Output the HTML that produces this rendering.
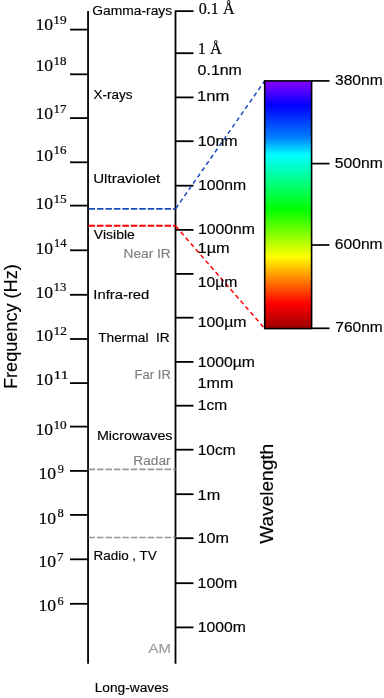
<!DOCTYPE html>
<html><head><meta charset="utf-8"><title>Electromagnetic spectrum</title>
<style>html,body{margin:0;padding:0;background:#fff;overflow:hidden}svg{display:block}</style>
</head><body>
<svg width="384" height="698" viewBox="0 0 384 698">
<defs><linearGradient id="spec" x1="0" y1="0" x2="0" y2="1">
<stop offset="0" stop-color="#8a00ff"/>
<stop offset="0.10" stop-color="#0000ff"/>
<stop offset="0.23" stop-color="#0080ff"/>
<stop offset="0.30" stop-color="#00ffff"/>
<stop offset="0.52" stop-color="#00ff00"/>
<stop offset="0.71" stop-color="#ffff00"/>
<stop offset="0.785" stop-color="#ff9900"/>
<stop offset="0.90" stop-color="#ff0000"/>
<stop offset="1" stop-color="#9a0000"/>
</linearGradient></defs>
<rect width="384" height="698" fill="#fff"/>
<g stroke="#000" stroke-width="1.8" fill="none">
<line x1="88.05" y1="11.0" x2="88.05" y2="663.8"/>
<path d="M193.5 11.2 H175.5 V663.8"/>
<line x1="70" y1="29.60" x2="88.05" y2="29.60"/>
<line x1="70" y1="74.30" x2="88.05" y2="74.30"/>
<line x1="70" y1="118.10" x2="88.05" y2="118.10"/>
<line x1="70" y1="162.30" x2="88.05" y2="162.30"/>
<line x1="70" y1="205.60" x2="88.05" y2="205.60"/>
<line x1="70" y1="250.30" x2="88.05" y2="250.30"/>
<line x1="70" y1="294.80" x2="88.05" y2="294.80"/>
<line x1="70" y1="339.00" x2="88.05" y2="339.00"/>
<line x1="70" y1="383.10" x2="88.05" y2="383.10"/>
<line x1="70" y1="426.60" x2="88.05" y2="426.60"/>
<line x1="70" y1="470.90" x2="88.05" y2="470.90"/>
<line x1="70" y1="514.90" x2="88.05" y2="514.90"/>
<line x1="70" y1="559.30" x2="88.05" y2="559.30"/>
<line x1="70" y1="603.80" x2="88.05" y2="603.80"/>
<line x1="175.5" y1="53.20" x2="193.5" y2="53.20"/>
<line x1="175.5" y1="97.40" x2="193.5" y2="97.40"/>
<line x1="175.5" y1="141.20" x2="193.5" y2="141.20"/>
<line x1="175.5" y1="185.70" x2="193.5" y2="185.70"/>
<line x1="175.5" y1="229.90" x2="193.5" y2="229.90"/>
<line x1="175.5" y1="273.90" x2="193.5" y2="273.90"/>
<line x1="175.5" y1="317.70" x2="193.5" y2="317.70"/>
<line x1="175.5" y1="361.90" x2="193.5" y2="361.90"/>
<line x1="175.5" y1="405.70" x2="193.5" y2="405.70"/>
<line x1="175.5" y1="449.70" x2="193.5" y2="449.70"/>
<line x1="175.5" y1="494.20" x2="193.5" y2="494.20"/>
<line x1="175.5" y1="538.20" x2="193.5" y2="538.20"/>
<line x1="175.5" y1="583.20" x2="193.5" y2="583.20"/>
<line x1="175.5" y1="627.40" x2="193.5" y2="627.40"/>
</g>
<g fill="none" stroke-dasharray="6.5 1.95" stroke-dashoffset="-0.5">
<line x1="88.05" y1="208.9" x2="175.5" y2="208.9" stroke="#1a4cbc" stroke-width="1.9"/>
<line x1="175.5" y1="208.9" x2="264.7" y2="80.9" stroke="#1a4cbc" stroke-width="1.5" stroke-dasharray="4.4 3.2"/>
<line x1="88.05" y1="225.8" x2="175.5" y2="225.8" stroke="#ff0000" stroke-width="2.0"/>
<line x1="175.5" y1="225.8" x2="264.7" y2="328.6" stroke="#ff0000" stroke-width="1.5" stroke-dasharray="4.4 3.2"/>
<line x1="88.05" y1="469.4" x2="175.5" y2="469.4" stroke="#999" stroke-width="1.7"/>
<line x1="88.05" y1="537.5" x2="175.5" y2="537.5" stroke="#999" stroke-width="1.7"/>
</g>
<rect x="264.7" y="80.9" width="46.9" height="247.7" fill="url(#spec)" stroke="#000" stroke-width="1.6"/>
<g stroke="#000" stroke-width="1.7">
<line x1="311.6" y1="80.9" x2="329.5" y2="80.9"/>
<line x1="311.6" y1="163.6" x2="329.5" y2="163.6"/>
<line x1="311.6" y1="245.0" x2="329.5" y2="245.0"/>
<line x1="311.6" y1="328.3" x2="329.5" y2="328.3"/>
</g>
<g font-family='"Liberation Sans", Arial, sans-serif' stroke-width="0.16" paint-order="stroke">
<text id="gamma" x="92.19" y="15.42" font-size="13.7" stroke="#000" textLength="80.01" lengthAdjust="spacingAndGlyphs">Gamma-rays</text>
<text id="xray" x="93.44" y="98.85" font-size="13.7" stroke="#000" textLength="39.07" lengthAdjust="spacingAndGlyphs">X-rays</text>
<text id="uv" x="93.23" y="182.79" font-size="13.7" stroke="#000" textLength="67.03" lengthAdjust="spacingAndGlyphs">Ultraviolet</text>
<text id="vis" x="93.86" y="239.36" font-size="13.7" stroke="#000" textLength="40.98" lengthAdjust="spacingAndGlyphs">Visible</text>
<text id="nir" x="123.61" y="258.42" font-size="13.7" fill="#7f7f7f" stroke="#7f7f7f" textLength="47.16" lengthAdjust="spacingAndGlyphs">Near IR</text>
<text id="ir" x="93.32" y="298.96" font-size="13.7" stroke="#000" textLength="56.00" lengthAdjust="spacingAndGlyphs">Infra-red</text>
<text id="tir" x="98.26" y="341.76" font-size="13.7" stroke="#000" textLength="71.50" lengthAdjust="spacingAndGlyphs">Thermal  IR</text>
<text id="fir" x="134.56" y="378.82" font-size="13.7" fill="#7f7f7f" stroke="#7f7f7f" textLength="36.34" lengthAdjust="spacingAndGlyphs">Far IR</text>
<text id="mw" x="96.92" y="440.16" font-size="13.7" stroke="#000" textLength="75.64" lengthAdjust="spacingAndGlyphs">Microwaves</text>
<text id="radar" x="133.28" y="465.02" font-size="13.7" fill="#7f7f7f" stroke="#7f7f7f" textLength="37.36" lengthAdjust="spacingAndGlyphs">Radar</text>
<text id="radio" x="93.47" y="560.20" font-size="13.7" stroke="#000" textLength="63.33" lengthAdjust="spacingAndGlyphs">Radio , TV</text>
<text id="am" x="148.64" y="653.05" font-size="13.7" fill="#9a9a9a" stroke="#9a9a9a" textLength="22.21" lengthAdjust="spacingAndGlyphs">AM</text>
<text id="lw" x="94.67" y="692.34" font-size="13.7" stroke="#000" textLength="74.01" lengthAdjust="spacingAndGlyphs">Long-waves</text>
<text id="r01nm" x="197.62" y="74.72" font-size="14.4" stroke="#000" textLength="44.28" lengthAdjust="spacingAndGlyphs">0.1nm</text>
<text id="r1nm" x="196.93" y="101.18" font-size="14.4" stroke="#000" textLength="32.46" lengthAdjust="spacingAndGlyphs">1nm</text>
<text id="r10nm" x="197.70" y="146.10" font-size="14.4" stroke="#000" textLength="39.95" lengthAdjust="spacingAndGlyphs">10nm</text>
<text id="r100nm" x="197.95" y="189.86" font-size="14.4" stroke="#000" textLength="48.30" lengthAdjust="spacingAndGlyphs">100nm</text>
<text id="r1000nm" x="197.94" y="234.24" font-size="14.4" stroke="#000" textLength="57.08" lengthAdjust="spacingAndGlyphs">1000nm</text>
<text id="r1um" x="197.61" y="252.98" font-size="14.4" stroke="#000" textLength="32.15" lengthAdjust="spacingAndGlyphs">1µm</text>
<text id="r10um" x="197.76" y="286.75" font-size="14.4" stroke="#000" textLength="39.76" lengthAdjust="spacingAndGlyphs">10µm</text>
<text id="r100um" x="197.66" y="327.32" font-size="14.4" stroke="#000" textLength="48.86" lengthAdjust="spacingAndGlyphs">100µm</text>
<text id="r1000um" x="197.69" y="367.29" font-size="14.4" stroke="#000" textLength="57.26" lengthAdjust="spacingAndGlyphs">1000µm</text>
<text id="r1mm" x="197.63" y="388.40" font-size="14.4" stroke="#000" textLength="35.82" lengthAdjust="spacingAndGlyphs">1mm</text>
<text id="r1cm" x="197.80" y="409.87" font-size="14.4" stroke="#000" textLength="29.33" lengthAdjust="spacingAndGlyphs">1cm</text>
<text id="r10cm" x="197.75" y="455.48" font-size="14.4" stroke="#000" textLength="37.89" lengthAdjust="spacingAndGlyphs">10cm</text>
<text id="r1m" x="197.64" y="499.80" font-size="14.4" stroke="#000" textLength="22.64" lengthAdjust="spacingAndGlyphs">1m</text>
<text id="r10m" x="197.60" y="543.42" font-size="14.4" stroke="#000" textLength="31.47" lengthAdjust="spacingAndGlyphs">10m</text>
<text id="r100m" x="197.64" y="587.98" font-size="14.4" stroke="#000" textLength="39.59" lengthAdjust="spacingAndGlyphs">100m</text>
<text id="r1000m" x="197.69" y="631.58" font-size="14.4" stroke="#000" textLength="48.12" lengthAdjust="spacingAndGlyphs">1000m</text>
<text id="n380" x="335.00" y="84.51" font-size="14.1" stroke="#000" textLength="47.72" lengthAdjust="spacingAndGlyphs">380nm</text>
<text id="n500" x="334.77" y="168.45" font-size="14.1" stroke="#000" textLength="47.98" lengthAdjust="spacingAndGlyphs">500nm</text>
<text id="n600" x="334.85" y="248.90" font-size="14.1" stroke="#000" textLength="47.76" lengthAdjust="spacingAndGlyphs">600nm</text>
<text id="n760" x="335.37" y="332.45" font-size="14.1" stroke="#000" textLength="47.41" lengthAdjust="spacingAndGlyphs">760nm</text>
</g>
<g font-family='"Liberation Serif", "Times New Roman", serif' stroke-width="0.18">
<text id="a01" x="198.73" y="13.90" font-size="16.6" stroke="#000" textLength="35.81" lengthAdjust="spacingAndGlyphs">0.1 Å</text>
<text id="a1" x="197.79" y="54.19" font-size="16.6" stroke="#000" textLength="24.10" lengthAdjust="spacingAndGlyphs">1 Å</text>
<text id="t19" x="35.51" y="30.18" font-size="16.6" stroke="#000" textLength="17.62" lengthAdjust="spacingAndGlyphs">10</text>
<text id="s19" x="53.37" y="23.57" font-size="11.5" stroke="#000" textLength="13.37" lengthAdjust="spacingAndGlyphs">19</text>
<text id="t18" x="35.51" y="70.98" font-size="16.6" stroke="#000" textLength="17.62" lengthAdjust="spacingAndGlyphs">10</text>
<text id="s18" x="53.54" y="65.02" font-size="11.5" stroke="#000" textLength="12.92" lengthAdjust="spacingAndGlyphs">18</text>
<text id="t17" x="35.51" y="119.18" font-size="16.6" stroke="#000" textLength="17.62" lengthAdjust="spacingAndGlyphs">10</text>
<text id="s17" x="53.58" y="113.23" font-size="11.5" stroke="#000" textLength="12.98" lengthAdjust="spacingAndGlyphs">17</text>
<text id="t16" x="35.51" y="161.18" font-size="16.6" stroke="#000" textLength="17.62" lengthAdjust="spacingAndGlyphs">10</text>
<text id="s16" x="53.53" y="154.13" font-size="11.5" stroke="#000" textLength="13.03" lengthAdjust="spacingAndGlyphs">16</text>
<text id="t15" x="35.51" y="209.18" font-size="16.6" stroke="#000" textLength="17.62" lengthAdjust="spacingAndGlyphs">10</text>
<text id="s15" x="53.43" y="203.23" font-size="11.5" stroke="#000" textLength="13.31" lengthAdjust="spacingAndGlyphs">15</text>
<text id="t14" x="35.51" y="254.18" font-size="16.6" stroke="#000" textLength="17.62" lengthAdjust="spacingAndGlyphs">10</text>
<text id="s14" x="53.94" y="246.68" font-size="11.5" stroke="#000" textLength="12.38" lengthAdjust="spacingAndGlyphs">14</text>
<text id="t13" x="35.51" y="298.18" font-size="16.6" stroke="#000" textLength="17.62" lengthAdjust="spacingAndGlyphs">10</text>
<text id="s13" x="53.58" y="291.41" font-size="11.5" stroke="#000" textLength="12.92" lengthAdjust="spacingAndGlyphs">13</text>
<text id="t12" x="35.51" y="340.78" font-size="16.6" stroke="#000" textLength="17.62" lengthAdjust="spacingAndGlyphs">10</text>
<text id="s12" x="53.51" y="335.38" font-size="11.5" stroke="#000" textLength="13.47" lengthAdjust="spacingAndGlyphs">12</text>
<text id="t11" x="35.51" y="384.98" font-size="16.6" stroke="#000" textLength="17.62" lengthAdjust="spacingAndGlyphs">10</text>
<text id="s11" x="53.41" y="379.07" font-size="11.5" stroke="#000" textLength="15.04" lengthAdjust="spacingAndGlyphs">11</text>
<text id="t10" x="35.51" y="435.38" font-size="16.6" stroke="#000" textLength="17.62" lengthAdjust="spacingAndGlyphs">10</text>
<text id="s10" x="53.46" y="428.54" font-size="11.5" stroke="#000" textLength="13.27" lengthAdjust="spacingAndGlyphs">10</text>
<text id="t9" x="38.40" y="478.50" font-size="16.6" stroke="#000" textLength="17.66" lengthAdjust="spacingAndGlyphs">10</text>
<text id="s9" x="57.74" y="473.49" font-size="11.5" stroke="#000" textLength="6.10" lengthAdjust="spacingAndGlyphs">9</text>
<text id="t8" x="38.40" y="523.70" font-size="16.6" stroke="#000" textLength="17.66" lengthAdjust="spacingAndGlyphs">10</text>
<text id="s8" x="57.42" y="517.43" font-size="11.5" stroke="#000" textLength="6.24" lengthAdjust="spacingAndGlyphs">8</text>
<text id="t7" x="38.40" y="566.50" font-size="16.6" stroke="#000" textLength="17.66" lengthAdjust="spacingAndGlyphs">10</text>
<text id="s7" x="57.02" y="560.63" font-size="11.5" stroke="#000" textLength="6.52" lengthAdjust="spacingAndGlyphs">7</text>
<text id="t6" x="38.40" y="611.10" font-size="16.6" stroke="#000" textLength="17.66" lengthAdjust="spacingAndGlyphs">10</text>
<text id="s6" x="57.59" y="604.60" font-size="11.5" stroke="#000" textLength="6.15" lengthAdjust="spacingAndGlyphs">6</text>
</g>
<text id="freq" transform="translate(16.86,389.01) rotate(-90)" font-family='"Liberation Sans", Arial, sans-serif' font-size="18.5" stroke="#000" stroke-width="0.16" textLength="124.78" lengthAdjust="spacingAndGlyphs">Frequency (Hz)</text>
<text id="wave" transform="translate(273.29,543.80) rotate(-90)" font-family='"Liberation Sans", Arial, sans-serif' font-size="18.5" stroke="#000" stroke-width="0.16" textLength="100.02" lengthAdjust="spacingAndGlyphs">Wavelength</text>
</svg>
</body></html>
